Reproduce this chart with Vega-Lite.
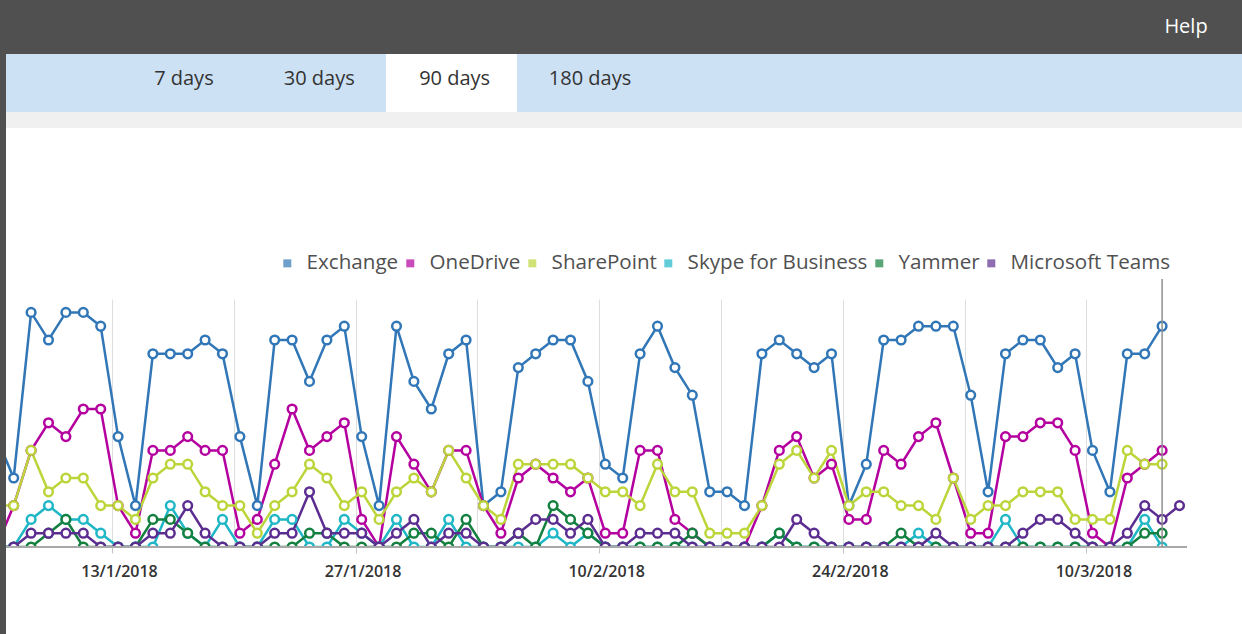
{
"$schema": "https://vega.github.io/schema/vega-lite/v6.json",
"background": "#505050",
"padding": {"left": 5, "top": 0, "right": 0, "bottom": 0},
"bounds": "flush",
"spacing": 0,
"config": {"view": {"stroke": "transparent", "strokeWidth": 0}, "font": "Open Sans", "concat": {"spacing": 0}},
"datasets": {"usage": [
{"date":"2018-01-06","product":"Exchange","users":8},{"date":"2018-01-07","product":"Exchange","users":5},{"date":"2018-01-08","product":"Exchange","users":17},{"date":"2018-01-09","product":"Exchange","users":15},{"date":"2018-01-10","product":"Exchange","users":17},{"date":"2018-01-11","product":"Exchange","users":17},{"date":"2018-01-12","product":"Exchange","users":16},{"date":"2018-01-13","product":"Exchange","users":8},{"date":"2018-01-14","product":"Exchange","users":3},{"date":"2018-01-15","product":"Exchange","users":14},{"date":"2018-01-16","product":"Exchange","users":14},{"date":"2018-01-17","product":"Exchange","users":14},{"date":"2018-01-18","product":"Exchange","users":15},{"date":"2018-01-19","product":"Exchange","users":14},{"date":"2018-01-20","product":"Exchange","users":8},{"date":"2018-01-21","product":"Exchange","users":3},{"date":"2018-01-22","product":"Exchange","users":15},{"date":"2018-01-23","product":"Exchange","users":15},{"date":"2018-01-24","product":"Exchange","users":12},{"date":"2018-01-25","product":"Exchange","users":15},{"date":"2018-01-26","product":"Exchange","users":16},{"date":"2018-01-27","product":"Exchange","users":8},{"date":"2018-01-28","product":"Exchange","users":3},{"date":"2018-01-29","product":"Exchange","users":16},{"date":"2018-01-30","product":"Exchange","users":12},{"date":"2018-01-31","product":"Exchange","users":10},{"date":"2018-02-01","product":"Exchange","users":14},{"date":"2018-02-02","product":"Exchange","users":15},{"date":"2018-02-03","product":"Exchange","users":3},{"date":"2018-02-04","product":"Exchange","users":4},{"date":"2018-02-05","product":"Exchange","users":13},{"date":"2018-02-06","product":"Exchange","users":14},{"date":"2018-02-07","product":"Exchange","users":15},{"date":"2018-02-08","product":"Exchange","users":15},{"date":"2018-02-09","product":"Exchange","users":12},{"date":"2018-02-10","product":"Exchange","users":6},{"date":"2018-02-11","product":"Exchange","users":5},{"date":"2018-02-12","product":"Exchange","users":14},{"date":"2018-02-13","product":"Exchange","users":16},{"date":"2018-02-14","product":"Exchange","users":13},{"date":"2018-02-15","product":"Exchange","users":11},{"date":"2018-02-16","product":"Exchange","users":4},{"date":"2018-02-17","product":"Exchange","users":4},{"date":"2018-02-18","product":"Exchange","users":3},{"date":"2018-02-19","product":"Exchange","users":14},{"date":"2018-02-20","product":"Exchange","users":15},{"date":"2018-02-21","product":"Exchange","users":14},{"date":"2018-02-22","product":"Exchange","users":13},{"date":"2018-02-23","product":"Exchange","users":14},{"date":"2018-02-24","product":"Exchange","users":3},{"date":"2018-02-25","product":"Exchange","users":6},{"date":"2018-02-26","product":"Exchange","users":15},{"date":"2018-02-27","product":"Exchange","users":15},{"date":"2018-02-28","product":"Exchange","users":16},{"date":"2018-03-01","product":"Exchange","users":16},{"date":"2018-03-02","product":"Exchange","users":16},{"date":"2018-03-03","product":"Exchange","users":11},{"date":"2018-03-04","product":"Exchange","users":4},{"date":"2018-03-05","product":"Exchange","users":14},{"date":"2018-03-06","product":"Exchange","users":15},{"date":"2018-03-07","product":"Exchange","users":15},{"date":"2018-03-08","product":"Exchange","users":13},{"date":"2018-03-09","product":"Exchange","users":14},{"date":"2018-03-10","product":"Exchange","users":7},{"date":"2018-03-11","product":"Exchange","users":4},{"date":"2018-03-12","product":"Exchange","users":14},{"date":"2018-03-13","product":"Exchange","users":14},{"date":"2018-03-14","product":"Exchange","users":16},
{"date":"2018-01-06","product":"OneDrive","users":0},{"date":"2018-01-07","product":"OneDrive","users":3},{"date":"2018-01-08","product":"OneDrive","users":7},{"date":"2018-01-09","product":"OneDrive","users":9},{"date":"2018-01-10","product":"OneDrive","users":8},{"date":"2018-01-11","product":"OneDrive","users":10},{"date":"2018-01-12","product":"OneDrive","users":10},{"date":"2018-01-13","product":"OneDrive","users":3},{"date":"2018-01-14","product":"OneDrive","users":1},{"date":"2018-01-15","product":"OneDrive","users":7},{"date":"2018-01-16","product":"OneDrive","users":7},{"date":"2018-01-17","product":"OneDrive","users":8},{"date":"2018-01-18","product":"OneDrive","users":7},{"date":"2018-01-19","product":"OneDrive","users":7},{"date":"2018-01-20","product":"OneDrive","users":1},{"date":"2018-01-21","product":"OneDrive","users":2},{"date":"2018-01-22","product":"OneDrive","users":6},{"date":"2018-01-23","product":"OneDrive","users":10},{"date":"2018-01-24","product":"OneDrive","users":7},{"date":"2018-01-25","product":"OneDrive","users":8},{"date":"2018-01-26","product":"OneDrive","users":9},{"date":"2018-01-27","product":"OneDrive","users":2},{"date":"2018-01-28","product":"OneDrive","users":0},{"date":"2018-01-29","product":"OneDrive","users":8},{"date":"2018-01-30","product":"OneDrive","users":6},{"date":"2018-01-31","product":"OneDrive","users":4},{"date":"2018-02-01","product":"OneDrive","users":7},{"date":"2018-02-02","product":"OneDrive","users":7},{"date":"2018-02-03","product":"OneDrive","users":3},{"date":"2018-02-04","product":"OneDrive","users":1},{"date":"2018-02-05","product":"OneDrive","users":5},{"date":"2018-02-06","product":"OneDrive","users":6},{"date":"2018-02-07","product":"OneDrive","users":5},{"date":"2018-02-08","product":"OneDrive","users":4},{"date":"2018-02-09","product":"OneDrive","users":5},{"date":"2018-02-10","product":"OneDrive","users":1},{"date":"2018-02-11","product":"OneDrive","users":1},{"date":"2018-02-12","product":"OneDrive","users":7},{"date":"2018-02-13","product":"OneDrive","users":7},{"date":"2018-02-14","product":"OneDrive","users":2},{"date":"2018-02-15","product":"OneDrive","users":1},{"date":"2018-02-16","product":"OneDrive","users":0},{"date":"2018-02-17","product":"OneDrive","users":0},{"date":"2018-02-18","product":"OneDrive","users":0},{"date":"2018-02-19","product":"OneDrive","users":3},{"date":"2018-02-20","product":"OneDrive","users":7},{"date":"2018-02-21","product":"OneDrive","users":8},{"date":"2018-02-22","product":"OneDrive","users":5},{"date":"2018-02-23","product":"OneDrive","users":6},{"date":"2018-02-24","product":"OneDrive","users":2},{"date":"2018-02-25","product":"OneDrive","users":2},{"date":"2018-02-26","product":"OneDrive","users":7},{"date":"2018-02-27","product":"OneDrive","users":6},{"date":"2018-02-28","product":"OneDrive","users":8},{"date":"2018-03-01","product":"OneDrive","users":9},{"date":"2018-03-02","product":"OneDrive","users":5},{"date":"2018-03-03","product":"OneDrive","users":1},{"date":"2018-03-04","product":"OneDrive","users":1},{"date":"2018-03-05","product":"OneDrive","users":8},{"date":"2018-03-06","product":"OneDrive","users":8},{"date":"2018-03-07","product":"OneDrive","users":9},{"date":"2018-03-08","product":"OneDrive","users":9},{"date":"2018-03-09","product":"OneDrive","users":7},{"date":"2018-03-10","product":"OneDrive","users":1},{"date":"2018-03-11","product":"OneDrive","users":0},{"date":"2018-03-12","product":"OneDrive","users":5},{"date":"2018-03-13","product":"OneDrive","users":6},{"date":"2018-03-14","product":"OneDrive","users":7},
{"date":"2018-01-06","product":"SharePoint","users":3},{"date":"2018-01-07","product":"SharePoint","users":3},{"date":"2018-01-08","product":"SharePoint","users":7},{"date":"2018-01-09","product":"SharePoint","users":4},{"date":"2018-01-10","product":"SharePoint","users":5},{"date":"2018-01-11","product":"SharePoint","users":5},{"date":"2018-01-12","product":"SharePoint","users":3},{"date":"2018-01-13","product":"SharePoint","users":3},{"date":"2018-01-14","product":"SharePoint","users":2},{"date":"2018-01-15","product":"SharePoint","users":5},{"date":"2018-01-16","product":"SharePoint","users":6},{"date":"2018-01-17","product":"SharePoint","users":6},{"date":"2018-01-18","product":"SharePoint","users":4},{"date":"2018-01-19","product":"SharePoint","users":3},{"date":"2018-01-20","product":"SharePoint","users":3},{"date":"2018-01-21","product":"SharePoint","users":1},{"date":"2018-01-22","product":"SharePoint","users":3},{"date":"2018-01-23","product":"SharePoint","users":4},{"date":"2018-01-24","product":"SharePoint","users":6},{"date":"2018-01-25","product":"SharePoint","users":5},{"date":"2018-01-26","product":"SharePoint","users":3},{"date":"2018-01-27","product":"SharePoint","users":4},{"date":"2018-01-28","product":"SharePoint","users":2},{"date":"2018-01-29","product":"SharePoint","users":4},{"date":"2018-01-30","product":"SharePoint","users":5},{"date":"2018-01-31","product":"SharePoint","users":4},{"date":"2018-02-01","product":"SharePoint","users":7},{"date":"2018-02-02","product":"SharePoint","users":5},{"date":"2018-02-03","product":"SharePoint","users":3},{"date":"2018-02-04","product":"SharePoint","users":2},{"date":"2018-02-05","product":"SharePoint","users":6},{"date":"2018-02-06","product":"SharePoint","users":6},{"date":"2018-02-07","product":"SharePoint","users":6},{"date":"2018-02-08","product":"SharePoint","users":6},{"date":"2018-02-09","product":"SharePoint","users":5},{"date":"2018-02-10","product":"SharePoint","users":4},{"date":"2018-02-11","product":"SharePoint","users":4},{"date":"2018-02-12","product":"SharePoint","users":3},{"date":"2018-02-13","product":"SharePoint","users":6},{"date":"2018-02-14","product":"SharePoint","users":4},{"date":"2018-02-15","product":"SharePoint","users":4},{"date":"2018-02-16","product":"SharePoint","users":1},{"date":"2018-02-17","product":"SharePoint","users":1},{"date":"2018-02-18","product":"SharePoint","users":1},{"date":"2018-02-19","product":"SharePoint","users":3},{"date":"2018-02-20","product":"SharePoint","users":6},{"date":"2018-02-21","product":"SharePoint","users":7},{"date":"2018-02-22","product":"SharePoint","users":5},{"date":"2018-02-23","product":"SharePoint","users":7},{"date":"2018-02-24","product":"SharePoint","users":3},{"date":"2018-02-25","product":"SharePoint","users":4},{"date":"2018-02-26","product":"SharePoint","users":4},{"date":"2018-02-27","product":"SharePoint","users":3},{"date":"2018-02-28","product":"SharePoint","users":3},{"date":"2018-03-01","product":"SharePoint","users":2},{"date":"2018-03-02","product":"SharePoint","users":5},{"date":"2018-03-03","product":"SharePoint","users":2},{"date":"2018-03-04","product":"SharePoint","users":3},{"date":"2018-03-05","product":"SharePoint","users":3},{"date":"2018-03-06","product":"SharePoint","users":4},{"date":"2018-03-07","product":"SharePoint","users":4},{"date":"2018-03-08","product":"SharePoint","users":4},{"date":"2018-03-09","product":"SharePoint","users":2},{"date":"2018-03-10","product":"SharePoint","users":2},{"date":"2018-03-11","product":"SharePoint","users":2},{"date":"2018-03-12","product":"SharePoint","users":7},{"date":"2018-03-13","product":"SharePoint","users":6},{"date":"2018-03-14","product":"SharePoint","users":6},
{"date":"2018-01-06","product":"Skype for Business","users":0},{"date":"2018-01-07","product":"Skype for Business","users":0},{"date":"2018-01-08","product":"Skype for Business","users":2},{"date":"2018-01-09","product":"Skype for Business","users":3},{"date":"2018-01-10","product":"Skype for Business","users":2},{"date":"2018-01-11","product":"Skype for Business","users":2},{"date":"2018-01-12","product":"Skype for Business","users":1},{"date":"2018-01-13","product":"Skype for Business","users":0},{"date":"2018-01-14","product":"Skype for Business","users":0},{"date":"2018-01-15","product":"Skype for Business","users":0},{"date":"2018-01-16","product":"Skype for Business","users":3},{"date":"2018-01-17","product":"Skype for Business","users":1},{"date":"2018-01-18","product":"Skype for Business","users":0},{"date":"2018-01-19","product":"Skype for Business","users":2},{"date":"2018-01-20","product":"Skype for Business","users":0},{"date":"2018-01-21","product":"Skype for Business","users":0},{"date":"2018-01-22","product":"Skype for Business","users":2},{"date":"2018-01-23","product":"Skype for Business","users":2},{"date":"2018-01-24","product":"Skype for Business","users":0},{"date":"2018-01-25","product":"Skype for Business","users":0},{"date":"2018-01-26","product":"Skype for Business","users":2},{"date":"2018-01-27","product":"Skype for Business","users":1},{"date":"2018-01-28","product":"Skype for Business","users":0},{"date":"2018-01-29","product":"Skype for Business","users":2},{"date":"2018-01-30","product":"Skype for Business","users":0},{"date":"2018-01-31","product":"Skype for Business","users":0},{"date":"2018-02-01","product":"Skype for Business","users":2},{"date":"2018-02-02","product":"Skype for Business","users":0},{"date":"2018-02-03","product":"Skype for Business","users":0},{"date":"2018-02-04","product":"Skype for Business","users":0},{"date":"2018-02-05","product":"Skype for Business","users":0},{"date":"2018-02-06","product":"Skype for Business","users":0},{"date":"2018-02-07","product":"Skype for Business","users":1},{"date":"2018-02-08","product":"Skype for Business","users":0},{"date":"2018-02-09","product":"Skype for Business","users":1},{"date":"2018-02-10","product":"Skype for Business","users":0},{"date":"2018-02-11","product":"Skype for Business","users":0},{"date":"2018-02-12","product":"Skype for Business","users":0},{"date":"2018-02-13","product":"Skype for Business","users":0},{"date":"2018-02-14","product":"Skype for Business","users":0},{"date":"2018-02-15","product":"Skype for Business","users":0},{"date":"2018-02-16","product":"Skype for Business","users":0},{"date":"2018-02-17","product":"Skype for Business","users":0},{"date":"2018-02-18","product":"Skype for Business","users":0},{"date":"2018-02-19","product":"Skype for Business","users":0},{"date":"2018-02-20","product":"Skype for Business","users":1},{"date":"2018-02-21","product":"Skype for Business","users":0},{"date":"2018-02-22","product":"Skype for Business","users":0},{"date":"2018-02-23","product":"Skype for Business","users":0},{"date":"2018-02-24","product":"Skype for Business","users":0},{"date":"2018-02-25","product":"Skype for Business","users":0},{"date":"2018-02-26","product":"Skype for Business","users":0},{"date":"2018-02-27","product":"Skype for Business","users":0},{"date":"2018-02-28","product":"Skype for Business","users":1},{"date":"2018-03-01","product":"Skype for Business","users":0},{"date":"2018-03-02","product":"Skype for Business","users":0},{"date":"2018-03-03","product":"Skype for Business","users":0},{"date":"2018-03-04","product":"Skype for Business","users":0},{"date":"2018-03-05","product":"Skype for Business","users":2},{"date":"2018-03-06","product":"Skype for Business","users":0},{"date":"2018-03-07","product":"Skype for Business","users":0},{"date":"2018-03-08","product":"Skype for Business","users":0},{"date":"2018-03-09","product":"Skype for Business","users":0},{"date":"2018-03-10","product":"Skype for Business","users":0},{"date":"2018-03-11","product":"Skype for Business","users":0},{"date":"2018-03-12","product":"Skype for Business","users":0},{"date":"2018-03-13","product":"Skype for Business","users":2},{"date":"2018-03-14","product":"Skype for Business","users":0},
{"date":"2018-01-06","product":"Yammer","users":0},{"date":"2018-01-07","product":"Yammer","users":0},{"date":"2018-01-08","product":"Yammer","users":0},{"date":"2018-01-09","product":"Yammer","users":1},{"date":"2018-01-10","product":"Yammer","users":2},{"date":"2018-01-11","product":"Yammer","users":0},{"date":"2018-01-12","product":"Yammer","users":0},{"date":"2018-01-13","product":"Yammer","users":0},{"date":"2018-01-14","product":"Yammer","users":0},{"date":"2018-01-15","product":"Yammer","users":2},{"date":"2018-01-16","product":"Yammer","users":2},{"date":"2018-01-17","product":"Yammer","users":1},{"date":"2018-01-18","product":"Yammer","users":0},{"date":"2018-01-19","product":"Yammer","users":0},{"date":"2018-01-20","product":"Yammer","users":0},{"date":"2018-01-21","product":"Yammer","users":0},{"date":"2018-01-22","product":"Yammer","users":0},{"date":"2018-01-23","product":"Yammer","users":0},{"date":"2018-01-24","product":"Yammer","users":1},{"date":"2018-01-25","product":"Yammer","users":1},{"date":"2018-01-26","product":"Yammer","users":0},{"date":"2018-01-27","product":"Yammer","users":0},{"date":"2018-01-28","product":"Yammer","users":0},{"date":"2018-01-29","product":"Yammer","users":0},{"date":"2018-01-30","product":"Yammer","users":1},{"date":"2018-01-31","product":"Yammer","users":1},{"date":"2018-02-01","product":"Yammer","users":0},{"date":"2018-02-02","product":"Yammer","users":2},{"date":"2018-02-03","product":"Yammer","users":0},{"date":"2018-02-04","product":"Yammer","users":0},{"date":"2018-02-05","product":"Yammer","users":1},{"date":"2018-02-06","product":"Yammer","users":0},{"date":"2018-02-07","product":"Yammer","users":3},{"date":"2018-02-08","product":"Yammer","users":2},{"date":"2018-02-09","product":"Yammer","users":1},{"date":"2018-02-10","product":"Yammer","users":0},{"date":"2018-02-11","product":"Yammer","users":0},{"date":"2018-02-12","product":"Yammer","users":0},{"date":"2018-02-13","product":"Yammer","users":0},{"date":"2018-02-14","product":"Yammer","users":0},{"date":"2018-02-15","product":"Yammer","users":1},{"date":"2018-02-16","product":"Yammer","users":0},{"date":"2018-02-17","product":"Yammer","users":0},{"date":"2018-02-18","product":"Yammer","users":0},{"date":"2018-02-19","product":"Yammer","users":0},{"date":"2018-02-20","product":"Yammer","users":1},{"date":"2018-02-21","product":"Yammer","users":0},{"date":"2018-02-22","product":"Yammer","users":0},{"date":"2018-02-23","product":"Yammer","users":0},{"date":"2018-02-24","product":"Yammer","users":0},{"date":"2018-02-25","product":"Yammer","users":0},{"date":"2018-02-26","product":"Yammer","users":0},{"date":"2018-02-27","product":"Yammer","users":1},{"date":"2018-02-28","product":"Yammer","users":0},{"date":"2018-03-01","product":"Yammer","users":0},{"date":"2018-03-02","product":"Yammer","users":0},{"date":"2018-03-03","product":"Yammer","users":0},{"date":"2018-03-04","product":"Yammer","users":0},{"date":"2018-03-05","product":"Yammer","users":0},{"date":"2018-03-06","product":"Yammer","users":0},{"date":"2018-03-07","product":"Yammer","users":0},{"date":"2018-03-08","product":"Yammer","users":0},{"date":"2018-03-09","product":"Yammer","users":0},{"date":"2018-03-10","product":"Yammer","users":0},{"date":"2018-03-11","product":"Yammer","users":0},{"date":"2018-03-12","product":"Yammer","users":0},{"date":"2018-03-13","product":"Yammer","users":1},{"date":"2018-03-14","product":"Yammer","users":1},
{"date":"2018-01-06","product":"Microsoft Teams","users":0},{"date":"2018-01-07","product":"Microsoft Teams","users":0},{"date":"2018-01-08","product":"Microsoft Teams","users":1},{"date":"2018-01-09","product":"Microsoft Teams","users":1},{"date":"2018-01-10","product":"Microsoft Teams","users":1},{"date":"2018-01-11","product":"Microsoft Teams","users":1},{"date":"2018-01-12","product":"Microsoft Teams","users":0},{"date":"2018-01-13","product":"Microsoft Teams","users":0},{"date":"2018-01-14","product":"Microsoft Teams","users":0},{"date":"2018-01-15","product":"Microsoft Teams","users":1},{"date":"2018-01-16","product":"Microsoft Teams","users":1},{"date":"2018-01-17","product":"Microsoft Teams","users":3},{"date":"2018-01-18","product":"Microsoft Teams","users":1},{"date":"2018-01-19","product":"Microsoft Teams","users":0},{"date":"2018-01-20","product":"Microsoft Teams","users":0},{"date":"2018-01-21","product":"Microsoft Teams","users":0},{"date":"2018-01-22","product":"Microsoft Teams","users":1},{"date":"2018-01-23","product":"Microsoft Teams","users":1},{"date":"2018-01-24","product":"Microsoft Teams","users":4},{"date":"2018-01-25","product":"Microsoft Teams","users":1},{"date":"2018-01-26","product":"Microsoft Teams","users":1},{"date":"2018-01-27","product":"Microsoft Teams","users":1},{"date":"2018-01-28","product":"Microsoft Teams","users":0},{"date":"2018-01-29","product":"Microsoft Teams","users":1},{"date":"2018-01-30","product":"Microsoft Teams","users":2},{"date":"2018-01-31","product":"Microsoft Teams","users":0},{"date":"2018-02-01","product":"Microsoft Teams","users":1},{"date":"2018-02-02","product":"Microsoft Teams","users":1},{"date":"2018-02-03","product":"Microsoft Teams","users":0},{"date":"2018-02-04","product":"Microsoft Teams","users":0},{"date":"2018-02-05","product":"Microsoft Teams","users":1},{"date":"2018-02-06","product":"Microsoft Teams","users":2},{"date":"2018-02-07","product":"Microsoft Teams","users":2},{"date":"2018-02-08","product":"Microsoft Teams","users":1},{"date":"2018-02-09","product":"Microsoft Teams","users":2},{"date":"2018-02-10","product":"Microsoft Teams","users":0},{"date":"2018-02-11","product":"Microsoft Teams","users":0},{"date":"2018-02-12","product":"Microsoft Teams","users":1},{"date":"2018-02-13","product":"Microsoft Teams","users":1},{"date":"2018-02-14","product":"Microsoft Teams","users":1},{"date":"2018-02-15","product":"Microsoft Teams","users":0},{"date":"2018-02-16","product":"Microsoft Teams","users":0},{"date":"2018-02-17","product":"Microsoft Teams","users":0},{"date":"2018-02-18","product":"Microsoft Teams","users":0},{"date":"2018-02-19","product":"Microsoft Teams","users":0},{"date":"2018-02-20","product":"Microsoft Teams","users":0},{"date":"2018-02-21","product":"Microsoft Teams","users":2},{"date":"2018-02-22","product":"Microsoft Teams","users":1},{"date":"2018-02-23","product":"Microsoft Teams","users":0},{"date":"2018-02-24","product":"Microsoft Teams","users":0},{"date":"2018-02-25","product":"Microsoft Teams","users":0},{"date":"2018-02-26","product":"Microsoft Teams","users":0},{"date":"2018-02-27","product":"Microsoft Teams","users":0},{"date":"2018-02-28","product":"Microsoft Teams","users":0},{"date":"2018-03-01","product":"Microsoft Teams","users":1},{"date":"2018-03-02","product":"Microsoft Teams","users":0},{"date":"2018-03-03","product":"Microsoft Teams","users":0},{"date":"2018-03-04","product":"Microsoft Teams","users":0},{"date":"2018-03-05","product":"Microsoft Teams","users":0},{"date":"2018-03-06","product":"Microsoft Teams","users":1},{"date":"2018-03-07","product":"Microsoft Teams","users":2},{"date":"2018-03-08","product":"Microsoft Teams","users":2},{"date":"2018-03-09","product":"Microsoft Teams","users":1},{"date":"2018-03-10","product":"Microsoft Teams","users":0},{"date":"2018-03-11","product":"Microsoft Teams","users":0},{"date":"2018-03-12","product":"Microsoft Teams","users":1},{"date":"2018-03-13","product":"Microsoft Teams","users":3},{"date":"2018-03-14","product":"Microsoft Teams","users":2},{"date":"2018-03-15","product":"Microsoft Teams","users":3}
]},
"vconcat": [
{
"width": 1237, "height": 54,
"view": {"fill": "#505050", "stroke": "transparent", "strokeWidth": 0},
"data": {"values": [{"item": "Help"}]},
"mark": {"type": "text", "color": "#ffffff", "fontSize": 20, "font": "Open Sans"},
"encoding": {
"x": {"field": "item", "type": "nominal", "axis": null, "scale": {"type": "point", "domain": ["Help"], "range": [1160, 1200]}},
"text": {"field": "item"}
}
},
{
"width": 1237, "height": 58,
"view": {"fill": "#cde1f4", "stroke": "transparent", "strokeWidth": 0},
"data": {"values": [{"tab": "7 days", "selected": false}, {"tab": "30 days", "selected": false}, {"tab": "90 days", "selected": true}, {"tab": "180 days", "selected": false}]},
"layer": [
{"transform": [{"filter": "datum.selected"}],
"mark": {"type": "bar", "color": "#ffffff"},
"encoding": {"x": {"field": "tab", "type": "nominal", "axis": null, "scale": {"type": "band", "domain": ["7 days", "30 days", "90 days", "180 days"], "range": [118, 642], "paddingInner": 0, "paddingOuter": 0}}}},
{"mark": {"type": "text", "fontSize": 20, "font": "Open Sans", "color": "#333333", "dy": -4},
"encoding": {"x": {"field": "tab", "type": "nominal", "axis": null, "scale": {"type": "point", "domain": ["7 days", "30 days", "90 days", "180 days"], "range": [177.9, 584], "padding": 0}}, "text": {"field": "tab"}}}
],
"resolve": {"scale": {"x": "independent"}}
},
{
"width": 1237, "height": 16,
"view": {"fill": "#f0f0f0", "stroke": "transparent", "strokeWidth": 0},
"data": {"values": [{}]},
"mark": {"type": "text", "text": ""}
},
{
"width": 1237, "height": 171,
"view": {"fill": "#ffffff", "stroke": "transparent", "strokeWidth": 0},
"data": {"values": [{}]},
"mark": {"type": "text", "text": ""}
},
{
"width": 1237, "height": 335,
"view": {"fill": "#ffffff", "stroke": "transparent", "strokeWidth": 0},
"data": {"name": "usage"},
"layer": [
{"transform": [{"filter": "false"}],
"mark": {"type": "square"},
"encoding": {
"color": {"field": "product", "type": "nominal",
"scale": {"domain": ["Exchange", "OneDrive", "SharePoint", "Skype for Business", "Yammer", "Microsoft Teams"], "range": ["#3177b7", "#b4009e", "#bcd53a", "#1fb7c6", "#148040", "#5c2d91"]},
"legend": {"orient": "none", "legendX": 271, "legendY": 253, "direction": "horizontal", "title": null, "symbolType": "square", "symbolSize": 64, "symbolStrokeWidth": 0, "labelFont": "Open Sans", "labelFontSize": 20.6, "labelColor": "#505050", "labelOffset": 9, "columnPadding": 1, "labelLimit": 400, "padding": 0}}
}},
{"mark": {"type": "line", "strokeWidth": 2.5, "clip": true},
"encoding": {
"x": {"field": "date", "type": "temporal",
"scale": {"type": "utc", "domain": [{"year": 2018, "month": 1, "date": 6, "hours": 13, "minutes": 23, "utc": true}, {"year": 2018, "month": 3, "date": 18, "hours": 15, "minutes": 35, "utc": true}]},
"axis": {"orient": "bottom", "grid": true, "gridColor": "#dedede", "gridWidth": 1, "domain": false, "ticks": false, "labels": false, "title": null, "tickOffset": -6.1, "zindex": 0,
"values": [{"year": 2018, "month": 1, "date": 13, "utc": true}, {"year": 2018, "month": 1, "date": 20, "utc": true}, {"year": 2018, "month": 1, "date": 27, "utc": true}, {"year": 2018, "month": 2, "date": 3, "utc": true}, {"year": 2018, "month": 2, "date": 10, "utc": true}, {"year": 2018, "month": 2, "date": 17, "utc": true}, {"year": 2018, "month": 2, "date": 24, "utc": true}, {"year": 2018, "month": 3, "date": 3, "utc": true}, {"year": 2018, "month": 3, "date": 10, "utc": true}]}},
"y": {"field": "users", "type": "quantitative", "scale": {"domain": [-6.3043, 17.971], "nice": false, "zero": false}, "axis": null},
"color": {"field": "product", "type": "nominal"}
}},
{"mark": {"type": "point", "shape": "circle", "filled": false, "fill": "#ffffff", "fillOpacity": 1, "opacity": 1, "size": 75, "strokeWidth": 2.5, "clip": true},
"encoding": {
"x": {"field": "date", "type": "temporal",
"axis": {"orient": "bottom", "offset": -87, "grid": false, "domain": false, "ticks": true, "tickColor": "#c4c4c4", "tickSize": 6, "tickWidth": 1, "tickOffset": -6.1, "labelOffset": 7, "zindex": 1,
"format": "%-d/%-m/%Y", "labelFont": "Open Sans", "labelFontSize": 16, "labelFontWeight": 600, "labelColor": "#333333", "labelPadding": 10, "labelFlush": false, "labelOverlap": false, "title": null,
"values": [{"year": 2018, "month": 1, "date": 13, "utc": true}, {"year": 2018, "month": 1, "date": 27, "utc": true}, {"year": 2018, "month": 2, "date": 10, "utc": true}, {"year": 2018, "month": 2, "date": 24, "utc": true}, {"year": 2018, "month": 3, "date": 10, "utc": true}]}},
"y": {"field": "users", "type": "quantitative", "axis": null},
"color": {"field": "product", "type": "nominal"}
}},
{"data": {"values": [{}]},
"mark": {"type": "rect", "color": "#ffffff"},
"encoding": {
"x": {"datum": {"year": 2018, "month": 1, "date": 6, "hours": 13, "minutes": 23, "utc": true}, "type": "temporal", "axis": null},
"x2": {"datum": {"year": 2018, "month": 3, "date": 18, "hours": 15, "minutes": 35, "utc": true}},
"y": {"datum": -6.3043, "type": "quantitative", "axis": null},
"y2": {"datum": 0}
}},
{"data": {"values": [{}]},
"mark": {"type": "rule", "color": "#a8a8a8", "strokeWidth": 2},
"encoding": {
"x": {"datum": {"year": 2018, "month": 1, "date": 6, "hours": 13, "minutes": 23, "utc": true}, "type": "temporal", "axis": null},
"x2": {"datum": {"year": 2018, "month": 3, "date": 15, "hours": 10, "minutes": 22, "utc": true}},
"y": {"datum": 0, "type": "quantitative", "axis": null}
}},
{"data": {"values": [{"date": "2018-03-14"}]},
"mark": {"type": "rule", "color": "#909090", "strokeWidth": 1.5},
"encoding": {
"x": {"field": "date", "type": "temporal", "axis": null},
"y": {"datum": 0, "type": "quantitative", "axis": null},
"y2": {"datum": 19.42}
}}
],
"resolve": {"axis": {"x": "independent"}}
}
]
}
